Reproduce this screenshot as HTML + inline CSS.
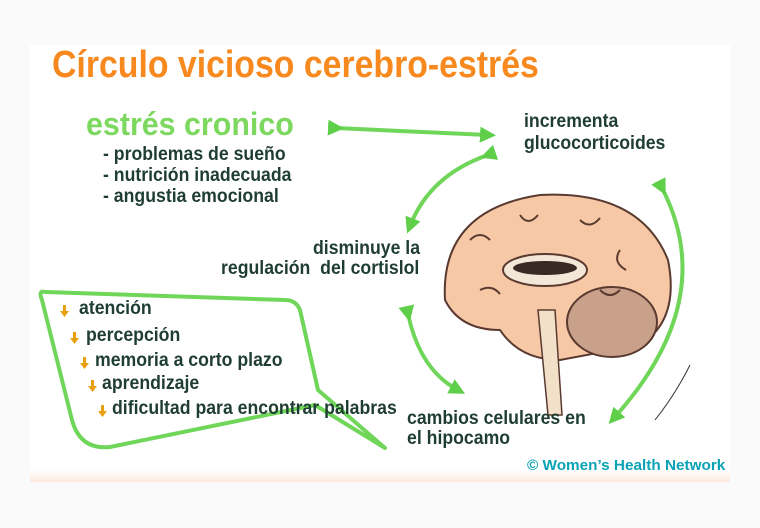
<!DOCTYPE html>
<html><head><meta charset="utf-8"><style>
html,body{margin:0;padding:0;background:#fafafa;}
#c{position:relative;width:760px;height:528px;overflow:hidden;background:#fafafa;font-family:"Liberation Sans",sans-serif;}
.t{position:absolute;white-space:nowrap;font-weight:bold;transform-origin:0 100%;}
.d{color:#1f3d33;font-size:19px;transform:scaleX(0.93);}
</style></head><body><div id="c">
<div style="position:absolute;left:30px;top:45px;width:700px;height:437px;background:#fff;"></div>
<div style="position:absolute;left:30px;top:470px;width:700px;height:12px;background:linear-gradient(#fff,#fde9da);"></div>
<svg style="position:absolute;left:0;top:0" width="760" height="528">
<defs><marker id="a" markerWidth="4" markerHeight="4" refX="2" refY="2" orient="auto"><path d="M0,0L4,2L0,4z" fill="#5fcf4a"/></marker></defs>
<g stroke="#6fd659" stroke-width="4" fill="none" marker-start="url(#a)" marker-end="url(#a)">
<path d="M336,128 L488,135"/>
<path d="M488,155 Q430,175 410,226"/>
<path d="M408,314 Q420,370 458,390"/>
<path d="M662,188 Q720,300 614,418"/>
</g>
<path d="M45,292 Q38,290 42,300 L72,420 Q80,450 110,447 L315,405 L385,448 L318,390 L300,310 Q296,300 285,300 Z" fill="none" stroke="#6fd659" stroke-width="4" stroke-linejoin="round"/>
<!-- brain -->
<path d="M445,300 Q440,210 540,195 Q640,190 668,260 Q680,320 640,345 L560,360 Q520,360 500,330 Q460,330 445,300 Z" fill="#f6c8a6" stroke="#5a3a30" stroke-width="2"/>
<ellipse cx="612" cy="322" rx="45" ry="35" fill="#c9a08a" stroke="#5a3a30" stroke-width="2"/>
<path d="M538,310 L555,310 L562,415 L548,415 Z" fill="#f3e0c8" stroke="#5a3a30" stroke-width="1.5"/>
<ellipse cx="545" cy="270" rx="42" ry="16" fill="#f3e8d8" stroke="#5a3a30" stroke-width="2"/>
<ellipse cx="545" cy="268" rx="32" ry="7" fill="#3a2a25"/>
<path d="M470,240 q10,-10 20,0 M520,215 q8,12 18,0 M580,220 q10,10 20,-2 M620,250 q-8,12 6,20 M480,290 q12,-6 20,4 M600,290 q10,10 20,0" stroke="#5a3a30" stroke-width="2" fill="none"/>
<path d="M655,420 q20,-25 35,-55" stroke="#333" stroke-width="1" fill="none"/>
<g fill="#e8a010"><path d="M63,305h3v6h3l-4.5,6l-4.5,-6h3z"/><path d="M73,332h3v6h3l-4.5,6l-4.5,-6h3z"/><path d="M83,357h3v6h3l-4.5,6l-4.5,-6h3z"/><path d="M91,380h3v6h3l-4.5,6l-4.5,-6h3z"/><path d="M101,405h3v6h3l-4.5,6l-4.5,-6h3z"/></g>
</svg>
<div class="t" style="left:52px;top:44px;font-size:38px;color:#f7891f;transform:scaleX(0.89);">Círculo vicioso cerebro-estrés</div>
<div class="t" style="left:86px;top:106px;font-size:32px;color:#7dd860;transform:scaleX(0.95);">estrés cronico</div>
<div class="t d" style="left:103px;top:144px;">- problemas de sueño</div>
<div class="t d" style="left:103px;top:165px;">- nutrición inadecuada</div>
<div class="t d" style="left:103px;top:186px;">- angustia emocional</div>
<div class="t d" style="left:524px;top:111px;">incrementa</div>
<div class="t d" style="left:524px;top:133px;">glucocorticoides</div>
<div class="t d" style="left:313px;top:238px;">disminuye la</div>
<div class="t d" style="left:221px;top:258px;">regulación&nbsp; del cortislol</div>
<div class="t d" style="left:79px;top:298px;">atención</div>
<div class="t d" style="left:86px;top:325px;">percepción</div>
<div class="t d" style="left:95px;top:350px;">memoria a corto plazo</div>
<div class="t d" style="left:102px;top:373px;">aprendizaje</div>
<div class="t d" style="left:112px;top:398px;">dificultad para encontrar palabras</div>
<div class="t d" style="left:407px;top:408px;">cambios celulares en</div>
<div class="t d" style="left:407px;top:428px;">el hipocamo</div>
<div class="t" style="left:527px;top:457px;font-size:15px;color:#0aa3b5;transform:scaleX(1.02);">© Women’s Health Network</div>
</div></body></html>
